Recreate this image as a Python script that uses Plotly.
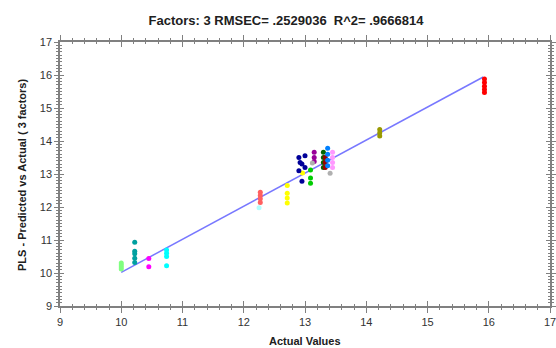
import plotly.graph_objects as go

# ---- data ----
title_text = "Factors: 3 RMSEC= .2529036  R^2= .9666814"
x_title = "Actual Values"
y_title = "PLS - Predicted vs Actual ( 3 factors)"

fit_actual = [10.0, 15.91]
fit_predicted = [10.02, 15.94]

s1_x = [10.0, 10.0, 10.0, 10.0]
s1_y = [10.12, 10.18, 10.24, 10.3]
s2_x = [10.22, 10.22, 10.22, 10.22, 10.22]
s2_y = [10.93, 10.66, 10.58, 10.45, 10.32]
s3_x = [10.45, 10.45]
s3_y = [10.44, 10.19]
s4_x = [10.74, 10.74, 10.74, 10.74]
s4_y = [10.7, 10.6, 10.5, 10.22]
s5_x = [12.27, 12.27, 12.27, 12.27]
s5_y = [12.45, 12.35, 12.25, 12.14]
s6_x = [12.25]
s6_y = [11.98]
s7_x = [12.71, 12.71, 12.71, 12.71, 12.96]
s7_y = [12.65, 12.42, 12.27, 12.12, 13.03]
s8_x = [12.9, 13.0, 12.95, 12.9, 12.95, 13.0, 12.92]
s8_y = [13.5, 13.55, 13.3, 13.1, 12.78, 13.2, 13.35]
s9_x = [13.15, 13.15, 13.15]
s9_y = [13.66, 13.5, 13.38]
s10_x = [13.09, 13.09, 13.09]
s10_y = [13.12, 12.88, 12.72]
s11_x = [13.12, 13.41]
s11_y = [13.33, 13.02]
s12_x = [13.3, 13.3, 13.3, 13.3]
s12_y = [13.66, 13.5, 13.35, 13.2]
s13_x = [13.33, 13.33, 13.33]
s13_y = [13.5, 13.35, 13.2]
s14_x = [13.37, 13.37, 13.37, 13.37]
s14_y = [13.78, 13.6, 13.42, 13.25]
s15_x = [13.45, 13.45, 13.45, 13.45]
s15_y = [13.66, 13.5, 13.35, 13.2]
s16_x = [14.22, 14.22, 14.22]
s16_y = [14.35, 14.25, 14.15]
s17_x = [15.93, 15.93, 15.93, 15.93, 15.93]
s17_y = [15.88, 15.77, 15.66, 15.56, 15.47]

x_ticks = [9, 10, 11, 12, 13, 14, 15, 16, 17]
y_ticks = [9, 10, 11, 12, 13, 14, 15, 16, 17]

# ---- styles ----
series = [
    (s1_x, s1_y, "#80ff80"),
    (s2_x, s2_y, "#00a0a0"),
    (s3_x, s3_y, "#ff00ff"),
    (s4_x, s4_y, "#00ffff"),
    (s5_x, s5_y, "#ff6060"),
    (s6_x, s6_y, "#b0ffff"),
    (s7_x, s7_y, "#ffff00"),
    (s8_x, s8_y, "#000099"),
    (s9_x, s9_y, "#990099"),
    (s10_x, s10_y, "#00cc00"),
    (s11_x, s11_y, "#b0b0b0"),
    (s12_x, s12_y, "#006600"),
    (s13_x, s13_y, "#990000"),
    (s14_x, s14_y, "#0080ff"),
    (s15_x, s15_y, "#ff99ff"),
    (s16_x, s16_y, "#999900"),
    (s17_x, s17_y, "#ff0000"),
]

W, H = 556, 348
ML, MR, MT, MB = 60, 6, 42, 42
PW, PH = W - ML - MR, H - MT - MB

fig = go.Figure()
fig.add_trace(go.Scatter(x=fit_actual, y=fit_predicted, mode="lines",
                         line=dict(color="#7878ff", width=1.5),
                         showlegend=False, hoverinfo="skip"))
for xs, ys, col in series:
    fig.add_trace(go.Scatter(x=xs, y=ys, mode="markers",
                             marker=dict(color=col, size=5, line=dict(width=0)),
                             showlegend=False))

# dummy trace on overlay axes so they render
fig.add_trace(go.Scatter(x=[None], y=[None], xaxis="x2", yaxis="y2",
                         showlegend=False, hoverinfo="skip"))

axcol = "#808080"
FONT = "Liberation Sans, Arial, sans-serif"
tickfont = dict(family=FONT, size=11, color="#333333")

common_x = dict(range=[9, 17], tickvals=x_ticks, linecolor=axcol, linewidth=1.5,
                tickcolor=axcol, tickwidth=1, showgrid=False, zeroline=False,
                mirror="allticks", showline=True, automargin=False)
common_y = dict(range=[9, 17], tickvals=y_ticks, linecolor=axcol, linewidth=1.5,
                tickcolor=axcol, tickwidth=1, showgrid=False, zeroline=False,
                mirror="allticks", showline=True, automargin=False)

fig.update_layout(
    width=W, height=H,
    margin=dict(l=ML, r=MR, t=MT, b=MB, autoexpand=False),
    paper_bgcolor="white", plot_bgcolor="white",
    title=dict(text="<b>" + title_text + "</b>", x=286 / W, xanchor="center",
               y=1 - 20 / H, yanchor="middle",
               font=dict(family=FONT, size=13, color="#202020")),
    xaxis=dict(**common_x, ticks="outside", ticklen=5,
               minor=dict(dtick=0.2, ticks="outside", ticklen=2, tickcolor=axcol),
               tickfont=tickfont, ticklabeloverflow="allow"),
    yaxis=dict(**common_y, ticks="outside", ticklen=4,
               minor=dict(dtick=0.1, ticks="outside", ticklen=2, tickcolor=axcol),
               tickfont=tickfont, ticklabeloverflow="allow"),
    xaxis2=dict(**common_x, overlaying="x", side="bottom", ticks="inside", ticklen=5,
                minor=dict(dtick=0.2, ticks="inside", ticklen=2, tickcolor=axcol),
                showticklabels=False),
    yaxis2=dict(**common_y, overlaying="y", side="left", ticks="inside", ticklen=4,
                minor=dict(dtick=0.1, ticks="inside", ticklen=2, tickcolor=axcol),
                showticklabels=False),
    annotations=[
        dict(text="<b>" + x_title + "</b>", xref="paper", yref="paper",
             x=(305 - ML) / PW, y=-(341 - (H - MB)) / PH,
             xanchor="center", yanchor="middle", showarrow=False,
             font=dict(family=FONT, size=11, color="#202020")),
        dict(text="<b>" + y_title + "</b>", xref="paper", yref="paper",
             x=(22 - ML) / PW, y=(H - MB - 175) / PH, textangle=-90,
             xanchor="center", yanchor="middle", showarrow=False,
             font=dict(family=FONT, size=11, color="#202020")),
    ],
)

fig.write_html("out.html", config={"displayModeBar": False},
               post_script="document.body.style.margin='0px';document.body.style.overflow='hidden';")
